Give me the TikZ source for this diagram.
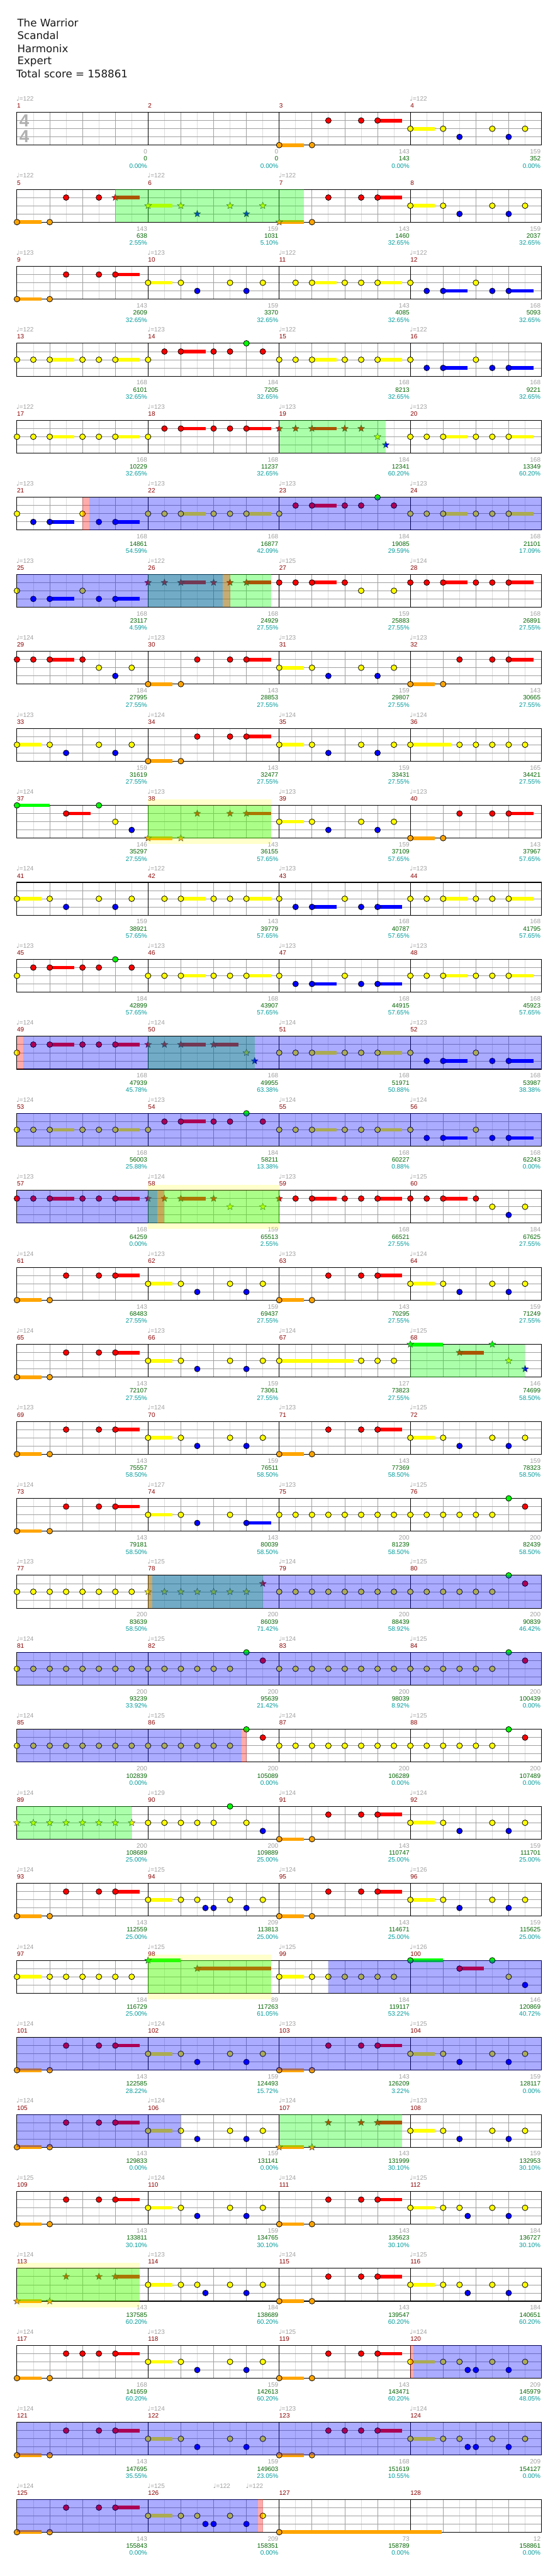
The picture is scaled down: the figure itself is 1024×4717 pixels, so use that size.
\documentclass[tikz,border=0pt]{standalone}
\usepackage{fontspec}
\setmainfont{Liberation Sans}
\newfontfamily\headfont{DejaVu Sans}
\usetikzlibrary{shapes.geometric}

\definecolor{lane0}{HTML}{00FF00}
\definecolor{lane1}{HTML}{FF0000}
\definecolor{lane2}{HTML}{FFFF00}
\definecolor{lane3}{HTML}{0000FF}
\definecolor{lane4}{HTML}{FFA500}
\definecolor{gridbeat}{HTML}{A0A0A0}
\definecolor{gridhalf}{HTML}{DCDCDC}
\definecolor{barcol}{HTML}{8B0000}
\definecolor{tempocol}{HTML}{A0A0A0}
\definecolor{scorecol}{HTML}{006400}
\definecolor{pctcol}{HTML}{009A9A}
\definecolor{sigcol}{HTML}{B0B0B0}

% x of eighth #2 in measure #1 -> \px, top of that staff -> \py
\newcommand\setpos[2]{%
  \pgfmathtruncatemacro\rw{(#1-1)/4}%
  \pgfmathtruncatemacro\cl{#1-1-4*\rw}%
  \pgfmathsetmacro\px{31+240*\cl+30*(#2)}%
  \pgfmathsetmacro\py{205.7+141*\rw}}

% one gem: measure, eighth, lane, sustain (eighths), star flag
\newcommand\nt[5]{%
  \setpos{#1}{#2}%
  \pgfmathsetmacro\ny{\py+15*(#3)}%
  \ifdim #4pt>0pt
    \fill[fill=lane#3] (\px,\ny-3.3) rectangle ({\px+30*(#4)},\ny+3.3);%
  \fi
  \ifnum #5=1
    \node[starnote, fill=lane#3] at (\px,\ny) {};%
  \else
    \draw[notehead, fill=lane#3] (\px,\ny) circle[radius=5.2pt];%
  \fi}
\newcommand\meas[3]{\foreach \pe/\pl/\ps in #2 {\nt{#1}{\pe}{\pl}{\ps}{#3}}}

% shaded stretch inside one staff: style, measure, from eighth, to eighth
\newcommand\zone[4]{\setpos{#2}{#3}\let\xa\px
  \setpos{#2}{#4}\fill[#1] (\xa,\py) rectangle (\px,\py+60);}
\newcommand\glow[3]{\setpos{#1}{#2}\let\xa\px
  \setpos{#1}{#3}\fill[hizone] (\xa,\py-10.5) rectangle (\px,\py+71);}

% bar number above, running totals below
\newcommand\tally[4]{%
  \setpos{#1}{0}%
  \node[barno] (bar#1) at (\px,\py-12) {#1};
  \setpos{#1}{8}%
  \node[basenum] (base#1) at (\px-1.5,\py+72) {#2};
  \node[scorenum] (score#1) at (\px-1.5,\py+85) {#3};
  \node[pctnum] (pct#1) at (\px-1.5,\py+98) {#4\%};}

% gem patterns, eighth/lane/sustain
\def\pA{0/4/1.5, 2/4/0, 3/1/0, 5/1/0, 6/1/1.5}
\def\pB{0/2/1.5, 2/2/0, 3/3/0, 5/2/0, 6/3/0, 7/2/0}
\def\pC{1/2/0, 2/2/1.5, 4/2/0, 5/2/0, 6/2/1.5}
\def\pD{0/2/0, 1/3/0, 2/3/1.5, 4/2/0, 5/3/0, 6/3/1.5}
\def\pE{0/2/0, 1/2/0, 2/2/1.5, 4/2/0, 5/2/0, 6/2/1.5}
\def\pF{0/2/0, 1/1/0, 2/1/1.5, 4/1/0, 5/1/0, 6/0/0, 7/1/0}
\def\pG{0/2/0, 1/1/0, 2/1/1.5, 4/1/0, 5/1/0, 6/1/1.5}
\def\pH{0/2/1.5, 2/2/0, 3/2/0, 3.5/3/0, 5/2/0, 6/3/0, 7/2/0}
\def\pI{0/2/1.5, 2/2/0, 3/2/0, 3.5/3/0, 4/3/0, 5/2/0, 6/3/0, 7/2/0}
\def\pJ{0/4/1.5, 2/4/0, 3/1/0, 4/1/0, 5/1/0, 6/1/1.5}
\def\pK{0/2/0, 1/2/0, 2/2/0, 3/2/0, 4/2/0, 5/2/0, 6/2/0, 7/2/0}
\def\pL{0/2/0, 1/2/0, 2/2/0, 3/2/0, 4/2/0, 5/2/0, 6/0/0, 7/1/0}
\def\pM{0/1/0, 1/1/0, 2/1/1.5, 4/1/0, 5/1/0, 6/1/1.5}
\def\pN{0/0/2, 3/1/1.5, 5/0/0, 6/2/0, 7/3/0}
\def\pO{0/1/0, 1/1/0, 2/1/1.5, 4/1/0, 5/2/0, 6/3/0, 7/2/0}
\def\pP{0/2/1.5, 2/2/0, 3/2/0, 4/2/0, 5/2/0, 6/2/0, 7/2/0}
\def\pQ{0/1/0, 1/1/0, 2/1/1.5, 4/1/0, 5/2/0, 7/2/0}

\begin{document}
\begin{tikzpicture}[
    x=1pt, y=-1pt,
    every node/.style={inner sep=0pt, font=\fontsize{11.5}{13}\selectfont},
    heading/.style={font=\headfont\fontsize{19.2}{23}\selectfont, text=black!90, anchor=base west},
    sig/.style={font=\bfseries\fontsize{32}{32}\selectfont, text=sigcol},
    barno/.style={text=barcol, anchor=west},
    tempo/.style={text=tempocol, anchor=west},
    basenum/.style={text=tempocol, anchor=east},
    scorenum/.style={text=scorecol, anchor=east},
    pctnum/.style={text=pctcol, anchor=east},
    staff/.style={draw=black, line width=1.2pt},
    beatline/.style={draw=gridbeat, line width=1pt},
    halfline/.style={draw=gridhalf, line width=1pt},
    measline/.style={draw=black, line width=1pt},
    notehead/.style={draw=black, line width=0.9pt},
    starnote/.style={star, star points=5, star point ratio=2.3, minimum size=13pt,
        inner sep=0pt, draw=black!80, line width=0.5pt},
    greenzone/.style={fill=lane0, fill opacity=0.33},
    redzone/.style={fill=lane1, fill opacity=0.33},
    bluezone/.style={fill=lane3, fill opacity=0.33},
    hizone/.style={fill=lane2, fill opacity=0.2},
]
\useasboundingbox (0,0) rectangle (1024,4717);
\fill[white] (0,0) rectangle (1024,4717);

% ============================================================ heading
\node[heading] (song) at (31.5,49.3) {The Warrior};
\node[heading] (artist) at (31.5,72.4) {Scandal};
\node[heading] (charter) at (31.5,95.6) {Harmonix};
\node[heading] (level) at (31.5,118.6) {Expert};
\node[heading] (total) at (29.5,141.7) {Total score = 158861};

% ============================================================ 32 staves
\foreach \r in {0,...,31}{
    \pgfmathsetmacro\ty{205.7+141*\r}
    \foreach \i in {1,3,...,31} \draw[halfline] (31+30*\i,\ty) -- ++(0,60);
    \foreach \i in {2,4,...,30} \draw[beatline] (31+30*\i,\ty) -- ++(0,60);
    \foreach \j in {1,2,3} \draw[beatline] (31,\ty+15*\j) -- (991,\ty+15*\j);
    \foreach \i in {1,2,3} \draw[measline] (31+240*\i,\ty) -- ++(0,60);
    \draw[staff] (31,\ty) rectangle (991,\ty+60);
}
\node[sig] (sigtop) at (44.5,220.8) {4};
\node[sig] (sigbot) at (44.5,250.3) {4};

% ============================================================ tempo marks
\foreach \m/\tp in {1/122, 4/122, 5/122, 6/122, 7/122,
    9/123, 10/123, 11/122, 12/122, 13/122, 14/123, 15/122, 16/122,
    17/122, 18/123, 19/123, 20/123, 21/123, 22/123, 23/123, 24/123,
    25/123, 26/122, 27/125, 28/124, 29/124, 30/123, 31/123, 32/123,
    33/123, 34/124, 35/124, 36/124, 37/124, 38/123, 39/123, 40/123,
    41/124, 42/122, 43/123, 44/123, 45/123, 46/123, 47/123, 48/123,
    49/124, 50/124, 51/124, 52/123, 53/124, 54/123, 55/124, 56/124,
    57/123, 58/124, 59/123, 60/125, 61/124, 62/123, 63/123, 64/124,
    65/124, 66/123, 67/124, 68/125, 69/123, 70/124, 71/123, 72/125,
    73/124, 74/127, 75/123, 76/125, 77/123, 78/125, 79/124, 80/125,
    81/124, 82/125, 83/124, 84/125, 85/124, 86/125, 87/124, 88/125,
    89/124, 90/129, 91/124, 92/124, 93/124, 94/125, 95/124, 96/126,
    97/124, 98/125, 99/125, 100/126, 101/124, 102/124, 103/123, 104/125,
    105/124, 106/124, 107/124, 108/123, 109/125, 110/124, 111/124, 112/125,
    113/124, 114/123, 115/124, 116/125, 117/124, 118/123, 119/125, 120/124,
    121/124, 122/124, 123/123, 124/124, 125/124, 126/125}{
    \setpos{\m}{0}
    \node[tempo] (tempo\m) at (\px-1,\py-25) {{\headfont ♩}=\tp};
}
\setpos{126}{4}
\node[tempo] (tempoa) at (\px-1,\py-25) {{\headfont ♩}=122};
\setpos{126}{6}
\node[tempo] (tempob) at (\px-1,\py-25) {{\headfont ♩}=122};

% ============================================================ bar numbers and totals
\foreach \m/\bs/\sc/\pc in {
    1/0/0/0.00, 2/0/0/0.00, 3/143/143/0.00, 4/159/352/0.00,
    5/143/638/2.55, 6/159/1031/5.10, 7/143/1460/32.65, 8/159/2037/32.65,
    9/143/2609/32.65, 10/159/3370/32.65, 11/143/4085/32.65, 12/168/5093/32.65,
    13/168/6101/32.65, 14/184/7205/32.65, 15/168/8213/32.65, 16/168/9221/32.65,
    17/168/10229/32.65, 18/168/11237/32.65, 19/184/12341/60.20, 20/168/13349/60.20,
    21/168/14861/54.59, 22/168/16877/42.09, 23/184/19085/29.59, 24/168/21101/17.09,
    25/168/23117/4.59, 26/168/24929/27.55, 27/159/25883/27.55, 28/168/26891/27.55,
    29/184/27995/27.55, 30/143/28853/27.55, 31/159/29807/27.55, 32/143/30665/27.55,
    33/159/31619/27.55, 34/143/32477/27.55, 35/159/33431/27.55, 36/165/34421/27.55,
    37/146/35297/27.55, 38/143/36155/57.65, 39/159/37109/57.65, 40/143/37967/57.65,
    41/159/38921/57.65, 42/143/39779/57.65, 43/168/40787/57.65, 44/168/41795/57.65,
    45/184/42899/57.65, 46/168/43907/57.65, 47/168/44915/57.65, 48/168/45923/57.65,
    49/168/47939/45.78, 50/168/49955/63.38, 51/168/51971/50.88, 52/168/53987/38.38,
    53/168/56003/25.88, 54/184/58211/13.38, 55/168/60227/0.88, 56/168/62243/0.00,
    57/168/64259/0.00, 58/159/65513/2.55, 59/168/66521/27.55, 60/184/67625/27.55,
    61/143/68483/27.55, 62/159/69437/27.55, 63/143/70295/27.55, 64/159/71249/27.55,
    65/143/72107/27.55, 66/159/73061/27.55, 67/127/73823/27.55, 68/146/74699/58.50,
    69/143/75557/58.50, 70/159/76511/58.50, 71/143/77369/58.50, 72/159/78323/58.50,
    73/143/79181/58.50, 74/143/80039/58.50, 75/200/81239/58.50, 76/200/82439/58.50,
    77/200/83639/58.50, 78/200/86039/71.42, 79/200/88439/58.92, 80/200/90839/46.42,
    81/200/93239/33.92, 82/200/95639/21.42, 83/200/98039/8.92, 84/200/100439/0.00,
    85/200/102839/0.00, 86/200/105089/0.00, 87/200/106289/0.00, 88/200/107489/0.00,
    89/200/108689/25.00, 90/200/109889/25.00, 91/143/110747/25.00, 92/159/111701/25.00,
    93/143/112559/25.00, 94/209/113813/25.00, 95/143/114671/25.00, 96/159/115625/25.00,
    97/184/116729/25.00, 98/89/117263/61.05, 99/184/119117/53.22, 100/146/120869/40.72,
    101/143/122585/28.22, 102/159/124493/15.72, 103/143/126209/3.22, 104/159/128117/0.00,
    105/143/129833/0.00, 106/159/131141/0.00, 107/143/131999/30.10, 108/159/132953/30.10,
    109/143/133811/30.10, 110/159/134765/30.10, 111/143/135623/30.10, 112/184/136727/30.10,
    113/143/137585/60.20, 114/184/138689/60.20, 115/143/139547/60.20, 116/184/140651/60.20,
    117/168/141659/60.20, 118/159/142613/60.20, 119/143/143471/60.20, 120/209/145979/48.05,
    121/143/147695/35.55, 122/159/149603/23.05, 123/168/151619/10.55, 124/209/154127/0.00,
    125/143/155843/0.00, 126/209/158351/0.00, 127/73/158789/0.00, 128/12/158861/0.00}{
    \tally{\m}{\bs}{\sc}{\pc}
}

% ============================================================ gems
\foreach \m in {3,9,30,32,34,40,61,63,65,69,71,73,91,93,95,101,103,105,109,111,115,119,121,125}
    {\meas{\m}{\pA}{0}}
\foreach \m in {38,107,113} {\meas{\m}{\pA}{1}}
\foreach \m in {4,8,10,31,33,35,39,41,62,64,66,70,72,92,96,102,104,106,108,110,118,122}
    {\meas{\m}{\pB}{0}}
\meas{6}{\pB}{1}
\foreach \m in {11,42} {\meas{\m}{\pC}{0}}
\foreach \m in {12,16,21,25,43,47,52,56} {\meas{\m}{\pD}{0}}
\foreach \m in {13,15,17,20,22,24,44,46,48,51,53,55} {\meas{\m}{\pE}{0}}
\foreach \m in {14,23,45,54} {\meas{\m}{\pF}{0}}
\foreach \m in {18,49} {\meas{\m}{\pG}{0}}
\foreach \m in {112,114,116} {\meas{\m}{\pH}{0}}
\foreach \m in {94,120,124,126} {\meas{\m}{\pI}{0}}
\foreach \m in {117,123} {\meas{\m}{\pJ}{0}}
\foreach \m in {75,77,79,81,83,85,87} {\meas{\m}{\pK}{0}}
\meas{89}{\pK}{1}
\foreach \m in {76,80,82,84,86,88} {\meas{\m}{\pL}{0}}
\foreach \m in {28,57} {\meas{\m}{\pM}{0}}
\meas{26}{\pM}{1}
\foreach \m in {37,100} {\meas{\m}{\pN}{0}}
\meas{68}{\pN}{1}
\foreach \m in {29,60} {\meas{\m}{\pO}{0}}
\foreach \m in {97,99} {\meas{\m}{\pP}{0}}
\meas{27}{\pQ}{0}
\meas{58}{\pQ}{1}

% the odd ones
\nt{5}{0}{4}{1.5}{0} \nt{5}{2}{4}{0}{0} \nt{5}{3}{1}{0}{0} \nt{5}{5}{1}{0}{0} \nt{5}{6}{1}{1.5}{1}
\nt{7}{0}{4}{1.5}{1} \nt{7}{2}{4}{0}{0} \nt{7}{3}{1}{0}{0} \nt{7}{5}{1}{0}{0} \nt{7}{6}{1}{1.5}{0}
\meas{19}{{0/1/0, 1/1/0, 2/1/1.5, 4/1/0, 5/1/0, 6/2/0, 6.5/3/0}}{1}
\meas{36}{{0/2/2.5, 3/2/0, 4/2/0, 5/2/0, 6/2/0, 7/2/0}}{0}
\meas{50}{{0/1/0, 1/1/0, 2/1/1.5, 4/1/1.5, 6/2/0, 6.5/3/0}}{1}
\nt{59}{0}{1}{0}{1}
\meas{59}{{1/1/0, 2/1/1.5, 4/1/0, 5/1/0, 6/1/1.5}}{0}
\meas{67}{{0/2/4.5, 5/2/0, 6/2/0, 7/2/0}}{0}
\meas{74}{{0/2/1.5, 2/2/0, 3/3/0, 5/2/0, 6/3/1.5}}{0}
\meas{78}{{0/2/0, 1/2/0, 2/2/0, 3/2/0, 4/2/0, 5/2/0, 6/2/0, 7/1/0}}{1}
\meas{90}{{0/2/0, 1/2/0, 2/2/0, 3/2/0, 4/2/0, 5/0/0, 6/2/0, 7/3/0}}{0}
\meas{98}{{0/0/2, 3/1/4.5}}{1}
\nt{127}{0}{4}{9.9}{0}

% ============================================================ shaded stretches
\foreach \m/\a/\b in {38/0/7.5, 58/0/8, 98/0/7.5, 113/0/7.5} {\glow{\m}{\a}{\b}}
\foreach \m/\a/\b in {5/6/17.5, 19/0/6.5, 26/0/7.5, 38/0/7.5, 50/0/6.5, 58/0/8,
    68/0/7, 78/0/7, 89/0/7, 98/0/7.5, 107/0/7.5, 113/0/7.5} {\zone{greenzone}{\m}{\a}{\b}}
\foreach \m/\a/\b in {21/4/4.4, 26/4.55/5, 49/0/0.4, 58/0.55/1, 78/0/0.25,
    86/5.7/6, 120/0/0.2, 126/6.7/7} {\zone{redzone}{\m}{\a}{\b}}
\foreach \m/\a/\b in {21/4.4/32, 25/0/12.55, 49/0.4/32, 53/0/32, 57/0/8.55,
    78/0.25/24, 81/0/32, 85/0/13.7, 99/3/16, 101/0/32, 105/0/10,
    120/0.2/8, 121/0/32, 125/0/14.7} {\zone{bluezone}{\m}{\a}{\b}}

\end{tikzpicture}
\end{document}
